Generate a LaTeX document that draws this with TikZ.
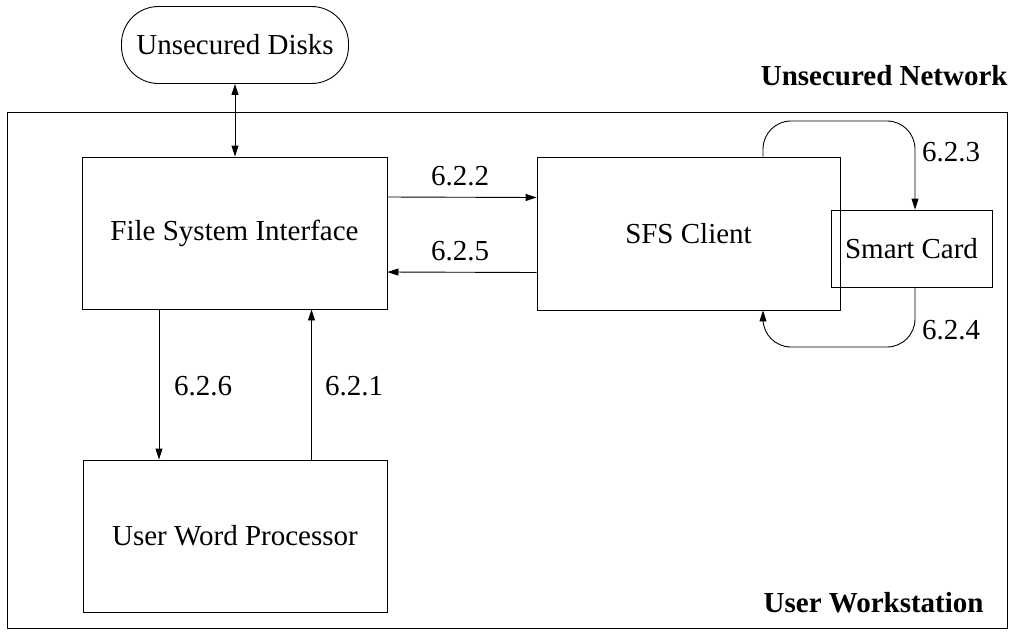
\documentclass[tikz,border=0pt]{standalone}
\usepackage{fontspec}
\setmainfont{Liberation Serif}
\newfontfamily\tnr{Liberation Serif}
\usetikzlibrary{arrows.meta,calc}
\begin{document}
\begin{tikzpicture}[x=1pt,y=-1pt,
  line width=0.9pt,
  every node/.style={font=\tnr\fontsize{29}{35}\selectfont},
  blk/.style={draw,rectangle,inner sep=0pt},
  lbl/.style={inner sep=0pt},
  bld/.style={inner sep=0pt,font=\tnr\fontsize{29}{35}\selectfont\bfseries},
  arr/.style={-{Triangle[length=11pt,width=7pt]}},
  darr/.style={{Triangle[length=11pt,width=7pt]}-{Triangle[length=11pt,width=7pt]}}]
\useasboundingbox (0,0) rectangle (1016,632);
% outer workstation box
\node[blk,minimum width=1000pt,minimum height=516pt] (ws) at (507,370) {};
\node[bld,anchor=east] (wsl) at (984,603) {User Workstation};
\node[bld,anchor=east] (net) at (1008,76) {Unsecured Network};
% nodes
\node[blk,rounded corners=37pt,minimum width=227pt,minimum height=77pt] (disks) at (235,45) {Unsecured Disks};
\node[blk,minimum width=305pt,minimum height=152pt] (fsi) at (234.5,233) {File System Interface};
\node[blk,minimum width=303pt,minimum height=153pt] (sfs) at (688.5,233.5) {SFS Client};
\node[blk,minimum width=161pt,minimum height=77pt] (sc) at (911.5,248.5) {Smart Card};
\node[blk,minimum width=304pt,minimum height=152pt] (uwp) at (235,536) {User Word Processor};
% connectors
\draw[darr] (disks.south) -- (disks.south |- fsi.north);
\draw[arr] ([yshift=36pt]fsi.east) -- ([yshift=36pt]sfs.west);
\draw[arr] ([yshift=-39pt]sfs.west) -- ([yshift=-39pt]fsi.east);
\draw[arr] ([xshift=-75.5pt]fsi.south) -- ([xshift=-75.5pt]fsi.south |- uwp.north);
\draw[arr] ([xshift=76.5pt]uwp.north) -- ([xshift=76.5pt]uwp.north |- fsi.south);
\coordinate (c1) at (763,121);
\coordinate (c2) at (763,347);
\draw[arr,rounded corners=28pt] (sfs.north -| c1) -- (c1) -| ([xshift=3.5pt]sc.north);
\draw[arr,rounded corners=28pt] ([xshift=3.5pt]sc.south) |- (c2) -- (sfs.south -| c2);
% labels
\node[lbl] (l622) at (460,176) {6.2.2};
\node[lbl] (l625) at (460,251) {6.2.5};
\node[lbl] (l626) at (203,386) {6.2.6};
\node[lbl] (l621) at (354,386) {6.2.1};
\node[lbl] (l623) at (951,152) {6.2.3};
\node[lbl] (l624) at (951,330) {6.2.4};
\end{tikzpicture}
\end{document}
